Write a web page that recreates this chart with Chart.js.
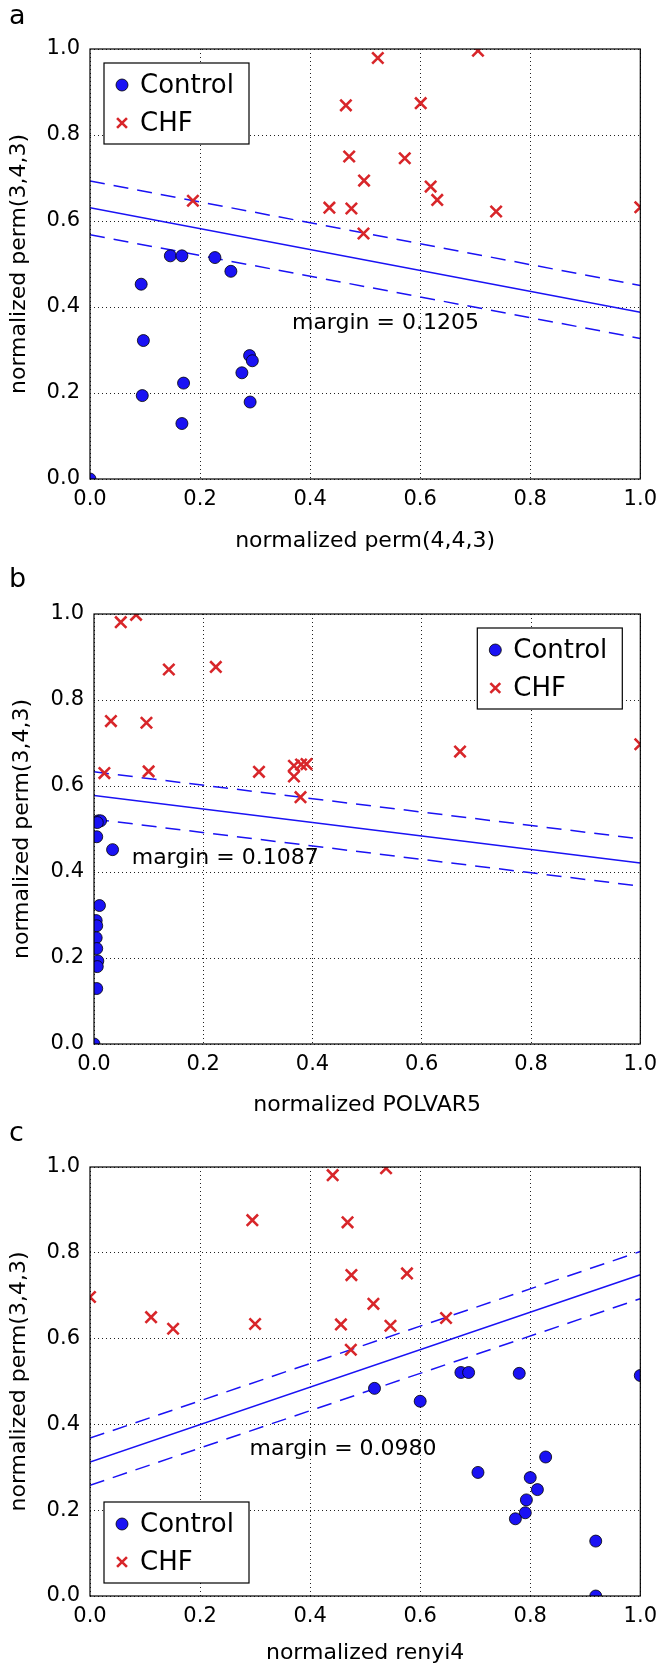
<!DOCTYPE html>
<html lang="en">
  <head>
    <meta charset="UTF-8" />
    <title>SVM margins</title>
    <script src="https://cdn.jsdelivr.net/npm/chart.js"></script>
    <style>
      body { margin: 0; background: #fff; }
      canvas { position: absolute; left: 0; }
    </style>
  </head>
  <body>
    <canvas id="chartA" width="665" height="560" style="top:0px"></canvas>
    <canvas id="chartB" width="665" height="560" style="top:560px"></canvas>
    <canvas id="chartC" width="665" height="546" style="top:1120px"></canvas>
    <script>
      // panel a: perm(4,4,3) vs perm(3,4,3)
      const ctrlAx = [0, 0.146, 0.167, 0.227, 0.256, 0.093, 0.097, 0.095, 0.170, 0.167, 0.290, 0.295, 0.276, 0.291];
      const ctrlAy = [0, 0.519, 0.519, 0.515, 0.483, 0.453, 0.322, 0.194, 0.223, 0.129, 0.287, 0.275, 0.247, 0.179];
      const chfAx = [0.187, 0.435, 0.475, 0.465, 0.471, 0.523, 0.498, 0.497, 0.572, 0.601, 0.619, 0.631, 0.705, 0.738, 1.0];
      const chfAy = [0.647, 0.631, 0.629, 0.869, 0.750, 0.979, 0.694, 0.571, 0.746, 0.874, 0.680, 0.649, 0.996, 0.622, 0.632];
      const sepA = [0.631, 0.388];
      const upA = [0.693, 0.450];
      const lowA = [0.568, 0.327];

      // panel b: POLVAR5 vs perm(3,4,3)
      const ctrlBx = [0, 0.008, 0.012, 0.006, 0.005, 0.034, 0.010, 0.004, 0.005, 0.004, 0.005, 0.007, 0.006, 0.005];
      const ctrlBy = [0, 0.519, 0.519, 0.515, 0.482, 0.452, 0.322, 0.287, 0.275, 0.247, 0.222, 0.193, 0.180, 0.129];
      const chfBx = [0.049, 0.077, 0.137, 0.223, 0.031, 0.096, 0.019, 0.100, 0.302, 0.366, 0.366, 0.379, 0.389, 0.378, 0.670, 1.0];
      const chfBy = [0.981, 0.998, 0.871, 0.877, 0.751, 0.747, 0.630, 0.634, 0.633, 0.647, 0.622, 0.650, 0.651, 0.574, 0.680, 0.697];
      const sepB = [0.578, 0.421];
      const upB = [0.633, 0.477];
      const lowB = [0.523, 0.367];

      // panel c: renyi4 vs perm(3,4,3)
      const ctrlCx = [0.517, 0.600, 0.674, 0.688, 0.780, 1.0, 0.705, 0.828, 0.800, 0.813, 0.793, 0.791, 0.773, 0.919, 0.919];
      const ctrlCy = [0.484, 0.454, 0.521, 0.521, 0.519, 0.514, 0.288, 0.324, 0.276, 0.248, 0.224, 0.194, 0.180, 0.128, 0];
      const chfCx = [0, 0.111, 0.151, 0.295, 0.300, 0.441, 0.538, 0.468, 0.475, 0.576, 0.515, 0.456, 0.546, 0.474, 0.647];
      const chfCy = [0.697, 0.650, 0.623, 0.876, 0.634, 0.981, 0.997, 0.871, 0.748, 0.752, 0.681, 0.633, 0.630, 0.574, 0.648];
      const sepC = [0.312, 0.749];
      const upC = [0.368, 0.803];
      const lowC = [0.258, 0.693];

      const lineX = [0, 1];
      const tickValues = [0, 0.2, 0.4, 0.6, 0.8, 1.0];

      const BLUE = "#1a12f4";
      const RED = "#d8262a";
      const FONT = "'DejaVu Sans', sans-serif";

      const toPoints = (xs, ys) => xs.map((x, i) => ({ x: x, y: ys[i] }));

      // frame, legend box, margin text and panel letter
      const extras = {
        id: "extras",
        afterDraw(chart, args, opts) {
          const ctx = chart.ctx;
          const area = chart.chartArea;
          ctx.save();
          ctx.strokeStyle = "#000";
          ctx.lineWidth = 1.2;
          ctx.strokeRect(area.left, area.top, area.right - area.left, area.bottom - area.top);

          // panel letter
          ctx.fillStyle = "#000";
          ctx.font = "27px " + FONT;
          ctx.textBaseline = "alphabetic";
          ctx.textAlign = "left";
          ctx.fillText(opts.letter, 9, opts.letterY);

          // margin annotation
          const xs = chart.scales.x;
          const ys = chart.scales.y;
          ctx.font = "22px " + FONT;
          ctx.textBaseline = "middle";
          ctx.fillText(opts.marginText, xs.getPixelForValue(opts.marginAt[0]), ys.getPixelForValue(opts.marginAt[1]));

          // legend
          const w = 145, h = 81;
          let lx = area.left + 14;
          let ly = area.top + 14;
          if (opts.legendPos === "tr") lx = area.right - 18 - w;
          if (opts.legendPos === "bl") ly = area.bottom - 13 - h;
          ctx.fillStyle = "#fff";
          ctx.fillRect(lx, ly, w, h);
          ctx.strokeStyle = "#000";
          ctx.lineWidth = 1.2;
          ctx.strokeRect(lx, ly, w, h);
          ctx.font = "26px " + FONT;
          chart.data.datasets.slice(0, 2).forEach((ds, i) => {
            const cy = ly + 22 + i * 38;
            ctx.fillStyle = ds.backgroundColor;
            ctx.strokeStyle = ds.borderColor;
            ctx.lineWidth = ds.borderWidth;
            Chart.helpers.drawPoint(ctx, { pointStyle: ds.pointStyle, radius: i === 0 ? 6 : 7, rotation: 0, borderWidth: ds.borderWidth }, lx + 18, cy);
            ctx.fillStyle = "#000";
            ctx.fillText(ds.label, lx + 36, cy + 1);
          });
          ctx.restore();
        },
      };

      function makePanel(id, p) {
        const lineSet = (ys, dashed) => ({
          data: toPoints(lineX, ys),
          showLine: true,
          borderColor: BLUE,
          borderWidth: 1.5,
          borderDash: dashed ? [15, 9] : [],
          pointRadius: 0,
        });
        return new Chart(document.getElementById(id), {
          type: "scatter",
          data: {
            datasets: [
              {
                label: "Control",
                data: toPoints(p.ctrlX, p.ctrlY),
                pointStyle: "circle",
                pointRadius: 6,
                backgroundColor: BLUE,
                borderColor: "#000",
                borderWidth: 0.8,
              },
              {
                label: "CHF",
                data: toPoints(p.chfX, p.chfY),
                pointStyle: "crossRot",
                pointRadius: 8,
                backgroundColor: RED,
                borderColor: RED,
                borderWidth: 2.6,
              },
              lineSet(p.sep, false),
              lineSet(p.up, true),
              lineSet(p.low, true),
            ],
          },
          options: {
            responsive: false,
            animation: false,
            layout: { padding: { top: p.top, right: p.right, bottom: p.bottom, left: 0 } },
            scales: {
              x: {
                min: 0,
                max: 1,
                afterBuildTicks: (s) => { s.ticks = tickValues.map((v) => ({ value: v })); },
                afterFit: (s) => { s.height = p.xh; },
                ticks: { color: "#000", font: { family: FONT, size: 21 }, padding: 8, maxRotation: 0,
                  callback: (v) => Number(v).toFixed(1) },
                grid: { color: "#222", lineWidth: 1, drawTicks: false },
                border: { display: false, dash: [1, 3] },
                title: { display: true, text: p.xTitle, color: "#000", font: { family: FONT, size: 22 }, padding: 0 },
              },
              y: {
                min: 0,
                max: 1,
                afterBuildTicks: (s) => { s.ticks = tickValues.map((v) => ({ value: v })); },
                afterFit: (s) => { s.width = p.left; },
                ticks: { color: "#000", font: { family: FONT, size: 21 }, padding: 10,
                  callback: (v) => Number(v).toFixed(1) },
                grid: { color: "#222", lineWidth: 1, drawTicks: false },
                border: { display: false, dash: [1, 3] },
                title: { display: true, text: "normalized perm(3,4,3)", color: "#000", font: { family: FONT, size: 22 },
                  padding: { top: p.yTitlePad, bottom: 0 } },
              },
            },
            plugins: {
              legend: { display: false },
              tooltip: { enabled: false },
              extras: p.extras,
            },
          },
          plugins: [extras],
        });
      }

      makePanel("chartA", {
        ctrlX: ctrlAx, ctrlY: ctrlAy, chfX: chfAx, chfY: chfAy, sep: sepA, up: upA, low: lowA,
        xTitle: "normalized perm(4,4,3)",
        top: 49, right: 23, bottom: 6, left: 90, xh: 75, yTitlePad: 6,
        extras: { letter: "a", letterY: 24, marginText: "margin = 0.1205", marginAt: [0.367, 0.363], legendPos: "tl" },
      });

      makePanel("chartB", {
        ctrlX: ctrlBx, ctrlY: ctrlBy, chfX: chfBx, chfY: chfBy, sep: sepB, up: upB, low: lowB,
        xTitle: "normalized POLVAR5",
        top: 54, right: 19, bottom: 2, left: 94, xh: 74, yTitlePad: 9,
        extras: { letter: "b", letterY: 27, marginText: "margin = 0.1087", marginAt: [0.069, 0.432], legendPos: "tr" },
      });

      makePanel("chartC", {
        ctrlX: ctrlCx, ctrlY: ctrlCy, chfX: chfCx, chfY: chfCy, sep: sepC, up: upC, low: lowC,
        xTitle: "normalized renyi4",
        top: 47, right: 23, bottom: 0, left: 90, xh: 70, yTitlePad: 6,
        extras: { letter: "c", letterY: 21, marginText: "margin = 0.0980", marginAt: [0.290, 0.342], legendPos: "bl" },
      });
    </script>
  </body>
</html>
